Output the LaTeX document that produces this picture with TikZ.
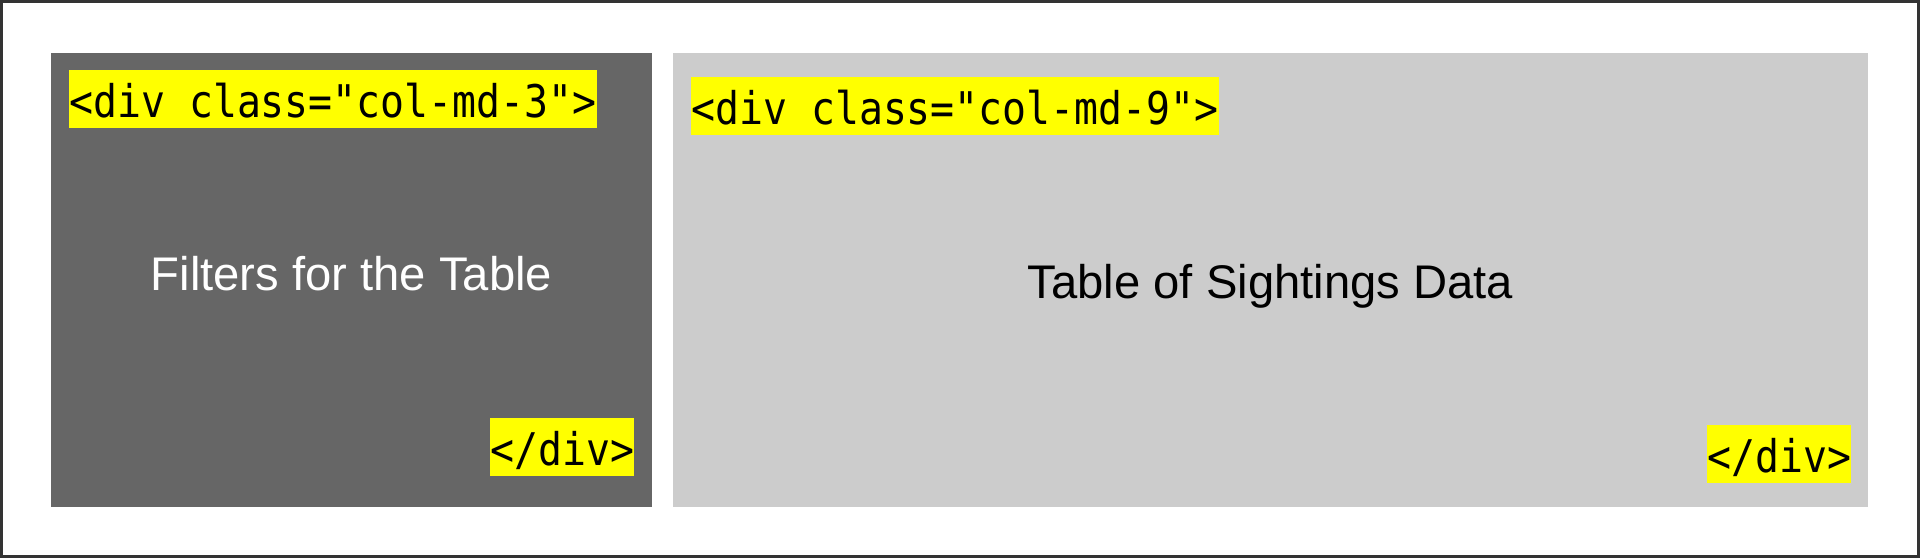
\documentclass[tikz,border=0pt]{standalone}
\usepackage{fontspec}
\setmainfont{Liberation Sans}
\newfontfamily\tagfont[FakeStretch=0.885]{DejaVu Sans Mono}
\definecolor{tagyellow}{HTML}{FFFF00}
\definecolor{darkpanel}{HTML}{666666}
\definecolor{lightpanel}{HTML}{CCCCCC}
\definecolor{bordergray}{HTML}{333333}
\begin{document}
\begin{tikzpicture}[x=1pt,y=-1pt,
  panel/.style={draw=none, inner sep=0pt, anchor=north west},
  tag/.style={fill=tagyellow, inner sep=0pt, text height=47pt, text depth=11pt,
    font={\tagfont\fontsize{45pt}{45pt}\selectfont}, text=black, anchor=north west},
  title/.style={anchor=base, inner sep=0pt, font={\fontsize{47.2pt}{47.2pt}\selectfont}}]
\useasboundingbox (0,0) rectangle (1920,558);
\draw[line width=3pt, draw=bordergray] (1.5,1.5) rectangle (1918.5,556.5);
\node[panel, fill=darkpanel, minimum width=601pt, minimum height=454pt] (left) at (51,53) {};
\node[panel, fill=lightpanel, minimum width=1195pt, minimum height=454pt] (right) at (673,53) {};
\node[tag] (open3) at (69,70) {<div class="col-md-3">};
\node[tag] (open9) at (691,77) {<div class="col-md-9">};
\node[tag] (close3) at (490,418) {</div>};
\node[tag] (close9) at (1707,425) {</div>};
\node[title, text=white] (filters) at (351.5,290) {Filters for the Table};
\node[title, text=black] (table) at (1270.5,298) {Table of Sightings Data};
\end{tikzpicture}
\end{document}
